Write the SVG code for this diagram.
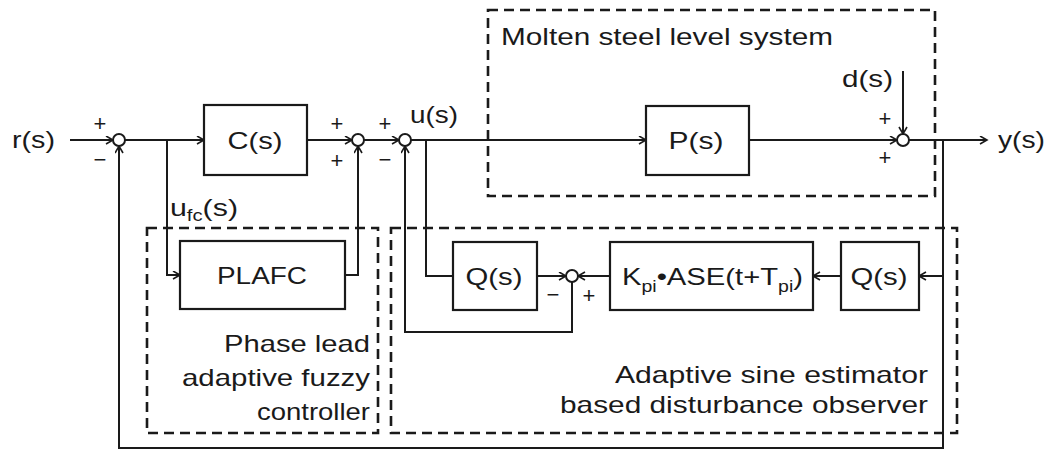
<svg xmlns="http://www.w3.org/2000/svg" width="1056" height="451" viewBox="0 0 1056 451">
<defs>
<marker id="ah" markerWidth="10" markerHeight="10" refX="8" refY="4.5" orient="auto" markerUnits="userSpaceOnUse">
<path d="M1,0.5 L8,4.5 L1,8.5" fill="none" stroke="#1a1a1a" stroke-width="1.6"/>
</marker>
</defs>
<style>
.ln{fill:none;stroke:#1a1a1a;stroke-width:2}
.bx{fill:#fff;stroke:#1a1a1a;stroke-width:2.2}
.dash{fill:none;stroke:#1a1a1a;stroke-width:2.6;stroke-dasharray:10 6}
.sum{fill:#fff;stroke:#1a1a1a;stroke-width:2}
.t{font-family:"Liberation Sans",Arial,sans-serif;font-size:24px;fill:#1a1a1a}
.sub{font-family:"Liberation Sans",Arial,sans-serif;font-size:16px;fill:#1a1a1a}
.sg{font-family:"Liberation Sans",Arial,sans-serif;font-size:22px;fill:#1a1a1a;text-anchor:middle}
.m{text-anchor:middle}
.e{text-anchor:end}
</style>

<g id="groups">
<rect id="molten-box" class="dash" x="488" y="10" width="447" height="186"/>
<rect id="plafc-group" class="dash" x="147" y="228" width="231" height="205"/>
<rect id="ase-group" class="dash" x="391" y="228" width="566" height="205"/>
<text class="t" x="501" y="45" textLength="332" lengthAdjust="spacingAndGlyphs">Molten steel level system</text>
<text class="t e" x="370" y="352" textLength="146" lengthAdjust="spacingAndGlyphs">Phase lead</text>
<text class="t e" x="370" y="386" textLength="188" lengthAdjust="spacingAndGlyphs">adaptive fuzzy</text>
<text class="t e" x="370" y="420" textLength="113" lengthAdjust="spacingAndGlyphs">controller</text>
<text class="t e" x="928" y="383" textLength="313" lengthAdjust="spacingAndGlyphs">Adaptive sine estimator</text>
<text class="t e" x="928" y="413" textLength="368" lengthAdjust="spacingAndGlyphs">based disturbance observer</text>
</g>

<g id="connectors">
<line class="ln" x1="70" y1="140" x2="113" y2="140" marker-end="url(#ah)"/>
<line class="ln" x1="125" y1="140" x2="204" y2="140" marker-end="url(#ah)"/>
<polyline class="ln" points="167,140 167,275 180,275" marker-end="url(#ah)"/>
<line class="ln" x1="307" y1="140" x2="352" y2="140" marker-end="url(#ah)"/>
<polyline class="ln" points="345,275 358,275 358,146" marker-end="url(#ah)"/>
<line class="ln" x1="364" y1="140" x2="399" y2="140" marker-end="url(#ah)"/>
<line class="ln" x1="411" y1="140" x2="646" y2="140" marker-end="url(#ah)"/>
<polyline class="ln" points="426,140 426,276 453,276"/>
<line class="ln" x1="537" y1="276" x2="566" y2="276" marker-end="url(#ah)"/>
<line class="ln" x1="610" y1="276" x2="578" y2="276" marker-end="url(#ah)"/>
<polyline class="ln" points="572,282 572,332 405,332 405,146" marker-end="url(#ah)"/>
<line class="ln" x1="749" y1="140" x2="897" y2="140" marker-end="url(#ah)"/>
<line class="ln" x1="903" y1="71" x2="903" y2="134" marker-end="url(#ah)"/>
<line class="ln" x1="909" y1="140" x2="987" y2="140" marker-end="url(#ah)"/>
<polyline class="ln" points="943,140 943,448 119,448 119,146" marker-end="url(#ah)"/>
<line class="ln" x1="943" y1="276" x2="919" y2="276" marker-end="url(#ah)"/>
<line class="ln" x1="841" y1="276" x2="813" y2="276" marker-end="url(#ah)"/>
</g>

<g id="sum1"><circle class="sum" cx="119" cy="140" r="6"/><text class="sg" x="100" y="131">+</text><text class="sg" x="100" y="167">−</text></g>
<g id="sum2"><circle class="sum" cx="358" cy="140" r="6"/><text class="sg" x="337" y="131">+</text><text class="sg" x="337" y="168">+</text></g>
<g id="sum3"><circle class="sum" cx="405" cy="140" r="6"/><text class="sg" x="385" y="131">+</text><text class="sg" x="385" y="167">−</text></g>
<g id="sum4"><circle class="sum" cx="903" cy="140" r="6"/><text class="sg" x="885" y="126">+</text><text class="sg" x="885" y="165">+</text></g>
<g id="sum5"><circle class="sum" cx="572" cy="276" r="6"/><text class="sg" x="553" y="302">−</text><text class="sg" x="589" y="303">+</text></g>

<g id="C"><rect class="bx" x="204" y="105" width="103" height="70"/><text class="t m" x="255" y="149" textLength="55" lengthAdjust="spacingAndGlyphs">C(s)</text></g>
<g id="P"><rect class="bx" x="646" y="106" width="103" height="69"/><text class="t m" x="696" y="149" textLength="55" lengthAdjust="spacingAndGlyphs">P(s)</text></g>
<g id="PLAFC"><rect class="bx" x="180" y="241" width="165" height="68"/><text class="t m" x="262" y="284" textLength="90" lengthAdjust="spacingAndGlyphs">PLAFC</text></g>
<g id="Q1"><rect class="bx" x="453" y="242" width="84" height="68"/><text class="t m" x="494" y="285" textLength="57" lengthAdjust="spacingAndGlyphs">Q(s)</text></g>
<g id="K"><rect class="bx" x="610" y="242" width="203" height="68"/><text class="t" x="622" y="285" textLength="181" lengthAdjust="spacingAndGlyphs">K<tspan class="sub" dy="7">pi</tspan><tspan dy="-7">•ASE(t+T</tspan><tspan class="sub" dy="7">pi</tspan><tspan dy="-7">)</tspan></text></g>
<g id="Q2"><rect class="bx" x="841" y="242" width="78" height="68"/><text class="t m" x="879" y="285" textLength="57" lengthAdjust="spacingAndGlyphs">Q(s)</text></g>

<g id="labels">
<text class="t" x="12" y="148" textLength="43" lengthAdjust="spacingAndGlyphs">r(s)</text>
<text class="t" x="410" y="123" textLength="48" lengthAdjust="spacingAndGlyphs">u(s)</text>
<text class="t" x="842" y="87" textLength="51" lengthAdjust="spacingAndGlyphs">d(s)</text>
<text class="t" x="998" y="148" textLength="47" lengthAdjust="spacingAndGlyphs">y(s)</text>
<text class="t" x="170" y="216" textLength="68" lengthAdjust="spacingAndGlyphs">u<tspan class="sub" dy="5">fc</tspan><tspan dy="-5">(s)</tspan></text>
</g>
</svg>
